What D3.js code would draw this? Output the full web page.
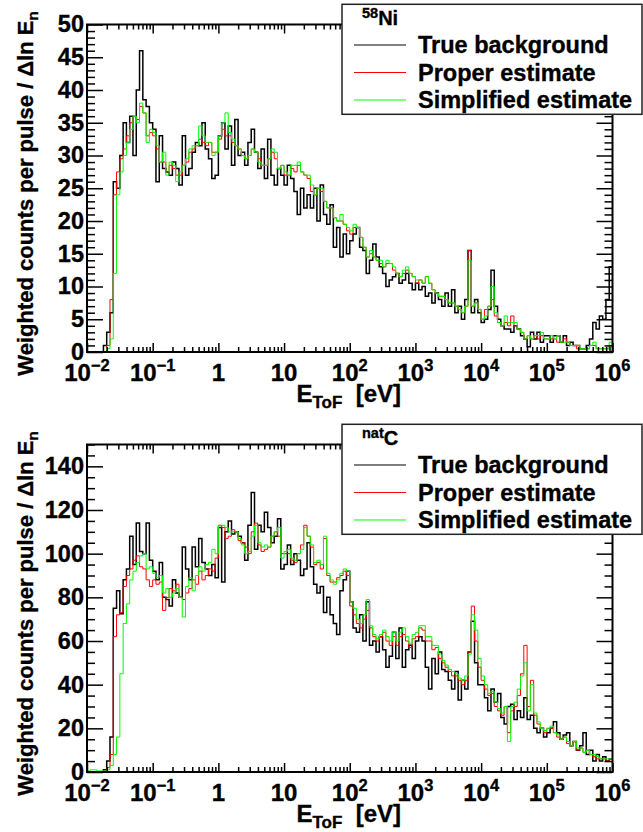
<!DOCTYPE html>
<html>
<head>
<meta charset="utf-8">
<script src="https://cdn.jsdelivr.net/npm/d3@7"></script>
<style>
  body { margin: 0; background: #fff; }
  text { font-family: "Liberation Sans", Arial, Helvetica, sans-serif; font-weight: bold; fill: #000; stroke: #000; stroke-width: 0.35; }
</style>
</head>
<body>
<div id="chart"></div>
<script>
// binning of the histograms: 20 log bins per decade from 1e-2 to 1e6 eV
var binsPerDecade = 20;
var xMinExp = -2;
var xMaxExp = 6;
var xTickExps = [-2, -1, 0, 1, 2, 3, 4, 5, 6];

var seriesNames = ["True background", "Proper estimate", "Simplified estimate"];

var niYTicks = [0, 5, 10, 15, 20, 25, 30, 35, 40, 45, 50];
var cYTicks = [0, 20, 40, 60, 80, 100, 120, 140];

// 58Ni panel
var niTrue = [
  0,0,0,0,0,1,3,6,26,25,30,35,32,36,30,40,46,38.5,37.5,35,
  34,26,33,28,27.5,27,29,28,25.5,33,27,28,30.5,32,31.5,35,31,29.5,26.5,27,
  33,35,31,34.5,28.5,35.5,30,30.5,28.5,32,34,30.5,28,31,26.5,32.5,27,25.5,28,27,
  25.5,28.5,26.5,24.5,21,25,22,24,22,25,20,25.5,21,19.5,22.5,16,19,14.5,18,15,
  17,18,19,16,15.5,12,14,16.5,14.5,13,12,10,11,11.5,12,10.5,11,12,10.5,9.5,
  10.5,9.5,10,8.5,9,7.5,9,8,7,9,7,9.5,6,7,5,8,15.5,6,8,6,
  4.5,5,6.5,12.5,7,5,4,3.5,3.5,3,4,3.5,2.5,2,0.8,3,2,3,1.5,2.5,
  2.5,1.5,2.5,2.5,1.5,2.5,1,1.5,1,1,0.5,0.5,1,2,4.5,3.5,5.5,5,8,13
];
var niProper = [
  0,0,0,0,0,0,1,8,24,27.5,29.5,31,33,35,36,35.5,37.5,36.5,33,33.5,
  33,31,29,29,27.5,28.5,28,27,27,28.5,29,30.5,31,31.5,32.5,32,31.5,32,30.5,30.5,
  32.5,34,33,33,32,31.5,31,30,29.5,30,31,30.5,29.5,28.5,28.5,29.5,30.5,29.5,28,28.5,
  27,27,28,27.5,28.5,27.5,27,26.5,24.5,24,25,24.5,23,22,22,20.5,20,20,19.5,18.5,
  18,19,19,17.5,16,14.5,15,14.5,14,13.5,13,13.5,13.5,12.5,12,11.5,12,12.5,12,11.5,
  10.5,11,10.5,11.5,10.5,9.5,9,8.5,8.5,8,7.5,7.5,7,6.5,6,7,15.5,7,7.5,6.5,
  5,6.5,7,8,5.5,4.5,4,4.5,4,5.5,4,3.5,3,2,2.5,2,2.5,2,2.5,2,
  2,2,2,1.5,1.5,2,1.5,1,1,0.5,0.5,0.5,0.5,1,1,0.5,0.5,0.5,0.5,1
];
var niSimplified = [
  0,0,0,0,0,0,0.5,2,12,24,27.5,30,32,34,36,35,38,36.5,32,34,
  33.5,31.5,29,30.5,27,29,28.5,26,27.5,28.5,29.5,31,31.5,31.5,34.5,33,32,32,30,30.5,
  33,35,36.5,33.5,32.5,31.5,31,30,29.5,30,31,30.5,29,28.5,28.5,29.5,31,30.5,28,28.5,
  27.5,27,28.5,28.5,29,27.5,27,27,25.5,24,25,25,23,22,22,20.5,20,21,19.5,19,
  18.5,19.5,19,17.5,16,14.5,15.5,14.5,14,14,13,14,13.5,13,12,11.5,12.5,13,12,11.5,
  11,11,10.5,11.5,10.5,9.5,9,8.5,8.5,8,7.5,7.5,7,6.5,6,7,14,7,7.5,6.5,
  5,5.5,7,10,6,4.5,4,5.5,4.5,4.5,4.5,3.5,3,2,2.5,2,2.5,2.5,3,2,
  2,2.5,2,2.5,1.5,1.5,1.5,1,1,1,0.5,0.5,0.5,1,1.5,0.5,0.5,0.5,0.5,1.5
];

// natC panel
var cTrue = [
  0,0,0,0,0,1,5,16,75,83,72.5,88,93,108,95,114,101,100,114,97,
  92,88,96,80,79,76,88,82,80,103,93,88,103,94,107,96,93,90,95,89,
  112,87,110,115,109,110,108,105,97,113,128,102,113,110,119,112,105,108,116,93,
  95,104,95,100,97,90,93,105,94,86,82,85,73,80,72,68,63,83,88,92,
  78,66,64,72,60,78,58,60,55,62,56,48,53,64,52,66,48,56,58,52,
  60,62,60,48,38,52,45,55,47,46,42,38,46,33,42,38,55,69,50,40,
  40,34,28,38,32,36,25,22,30,31,24,28,25,34,24,26,20,18,20,16,
  18,20,23,18,15,17,18,12,14,10,12,18,8,10,5,8,5,7,5,6
];
var cProper = [
  0,0,0,0,0,0.5,2,8,62,72,73,85,90,93,97,99,94,93,88,85,
  88,86,87,74,80,84,83,86,80,79,82,84,88,86,92,88,90,93,92,98,
  113,112,107,108,111,110,106,105,103,100,110,114,104,101,102,103,108,110,108,100,
  100,100,97,96,100,104,113,108,103,95,96,93,107,90,87,87,89,90,92,90,
  76,72,68,66,70,74,66,62,60,62,64,60,58,62,58,62,63,60,57,61,
  62,66,65,60,60,56,57,52,50,48,46,44,44,42,40,42,55,76,60,48,
  42,38,35,36,30,28,26,30,18,28,30,35,45,58,30,42,26,22,20,18,
  20,20,18,16,15,16,13,12,14,10,11,9,10,8,7,6,6,6,5,6
];
var cSimplified = [
  0.5,1,1,0.5,0.5,0.5,1,3,8,16,45,68,77,88,92,96,99,100,93,94,
  91,89,90,82,84,80,82,84,80,71,85,89,83,90,94,92,95,96,102,100,
  113,113,112,110,110,110,107,104,100,101,108,113,105,103,104,103,108,110,112,98,
  101,102,98,97,100,102,112,108,104,96,97,95,108,91,88,86,88,91,93,92,
  78,75,70,68,72,79,67,63,61,63,65,62,60,64,60,64,66,62,59,63,
  64,67,67,62,62,58,58,54,51,49,47,46,45,43,42,44,54,72,65,52,
  44,40,36,37,32,29,27,30,14,30,32,38,44,50,28,40,27,23,20,19,
  20,21,18,17,15,16,14,12,14,11,11,9,10,8,8,7,6,6,6,6
];

var seriesColors = ["#000000", "#ff0000", "#00ff00"];
var seriesWidths = [1.5, 1, 1];

var nBins = (xMaxExp - xMinExp) * binsPerDecade;
var binEdges = d3.range(nBins + 1).map(i => Math.pow(10, xMinExp + i / binsPerDecade));

var svg = d3.select("#chart")
  .append("svg")
  .attr("width", 643)
  .attr("height", 832);

function drawPanel(top, yMax, yMajor, yMinorStep, series, isoMass, isoName) {
  var left = 87, right = 612.5, bottom = top + 327.5;

  var x = d3.scaleLog()
    .domain([Math.pow(10, xMinExp), Math.pow(10, xMaxExp)])
    .range([left, right]);
  var y = d3.scaleLinear()
    .domain([0, yMax])
    .range([bottom, top]);

  var g = svg.append("g");

  // histograms as steps
  var line = d3.line()
    .x(d => x(d[0]))
    .y(d => y(d[1]))
    .curve(d3.curveStepAfter);

  series.forEach(function(s, i) {
    var pts = s.map((v, j) => [binEdges[j], v]);
    pts.push([binEdges[s.length], s[s.length - 1]]);
    g.append("path")
      .attr("d", line(pts))
      .attr("fill", "none")
      .attr("stroke", seriesColors[i])
      .attr("stroke-width", seriesWidths[i]);
  });

  // ticks
  var xMajor = xTickExps.map(e => Math.pow(10, e));
  var xMinor = [];
  for (var e = xMinExp; e < xMaxExp; e++) {
    for (var k = 2; k <= 9; k++) xMinor.push(k * Math.pow(10, e));
  }
  var yMinor = d3.range(0, yMax + 0.001, yMinorStep).filter(v => yMajor.indexOf(v) < 0);

  function tickAxis(axis, transform, vals, size) {
    var a = g.append("g")
      .attr("transform", transform)
      .call(axis.tickValues(vals).tickSize(size).tickFormat(""));
    a.select(".domain").remove();
    a.selectAll("line").attr("stroke", "#000").attr("stroke-width", 1.5);
  }
  tickAxis(d3.axisBottom(x), `translate(0, ${bottom})`, xMajor, -9);
  tickAxis(d3.axisBottom(x), `translate(0, ${bottom})`, xMinor, -5);
  tickAxis(d3.axisTop(x), `translate(0, ${top})`, xMajor, -9);
  tickAxis(d3.axisTop(x), `translate(0, ${top})`, xMinor, -5);
  tickAxis(d3.axisLeft(y), `translate(${left}, 0)`, yMajor, -16);
  tickAxis(d3.axisLeft(y), `translate(${left}, 0)`, yMinor, -8);
  tickAxis(d3.axisRight(y), `translate(${right}, 0)`, yMajor, -16);
  tickAxis(d3.axisRight(y), `translate(${right}, 0)`, yMinor, -8);

  // frame
  g.append("rect")
    .attr("x", left)
    .attr("y", top)
    .attr("width", right - left)
    .attr("height", bottom - top)
    .attr("fill", "none")
    .attr("stroke", "#000")
    .attr("stroke-width", 2);

  // y tick labels
  g.selectAll(null)
    .data(yMajor)
    .enter()
    .append("text")
    .attr("x", left - 3)
    .attr("y", d => y(d))
    .attr("dy", "0.34em")
    .attr("text-anchor", "end")
    .attr("font-size", 23.5)
    .text(d => d);

  // x tick labels with powers of ten
  var xl = g.selectAll(null)
    .data(xTickExps)
    .enter()
    .append("text")
    .attr("x", d => x(Math.pow(10, d)))
    .attr("y", bottom + 28.5)
    .attr("text-anchor", "middle")
    .attr("font-size", 24);
  xl.append("tspan").text(d => d === 0 ? "1" : "10");
  xl.filter(d => d !== 0 && d !== 1)
    .append("tspan")
    .attr("font-size", 16.5)
    .attr("dy", -10)
    .text(d => d < 0 ? "\u2212" + (-d) : d);

  // x title
  var xt = g.append("text")
    .attr("x", (left + right) / 2 - 1)
    .attr("y", bottom + 49.7)
    .attr("text-anchor", "middle")
    .attr("font-size", 24);
  xt.append("tspan").text("E");
  xt.append("tspan").attr("font-size", 17).attr("dy", 6).text("ToF");
  xt.append("tspan").attr("dy", -6).text("\u00a0\u00a0[eV]");

  // y title
  var yt = g.append("text")
    .attr("transform", `translate(33, ${top + 169}) rotate(-90)`)
    .attr("text-anchor", "middle")
    .attr("font-size", 22);
  yt.append("tspan").text("Weighted counts per pulse / \u0394ln E");
  yt.append("tspan").attr("font-size", 15).attr("dy", 5).text("n");

  // legend
  var lg = g.append("g").attr("transform", `translate(342, ${top - 20.2})`);
  lg.append("rect")
    .attr("x", 0)
    .attr("y", 0)
    .attr("width", 300)
    .attr("height", 110)
    .attr("fill", "#fff")
    .attr("stroke", "#222")
    .attr("stroke-width", 1.5);

  var hd = lg.append("text")
    .attr("x", 20)
    .attr("y", 21)
    .attr("font-size", 20);
  hd.append("tspan").attr("font-size", 14.5).attr("dy", -7).text(isoMass);
  hd.append("tspan").attr("dy", 7).text(isoName);

  seriesNames.forEach(function(name, i) {
    var ly = 40.7 + i * 27.5;
    lg.append("line")
      .attr("x1", 12)
      .attr("x2", 64)
      .attr("y1", ly)
      .attr("y2", ly)
      .attr("stroke", seriesColors[i])
      .attr("stroke-width", 1);
    lg.append("text")
      .attr("x", 76)
      .attr("y", ly + 8.5)
      .attr("font-size", 23.5)
      .text(name);
  });
}

drawPanel(24.5, 50, niYTicks, 1, [niTrue, niProper, niSimplified], "58", "Ni");
drawPanel(444.5, 150, cYTicks, 5, [cTrue, cProper, cSimplified], "nat", "C");
</script>
</body>
</html>
